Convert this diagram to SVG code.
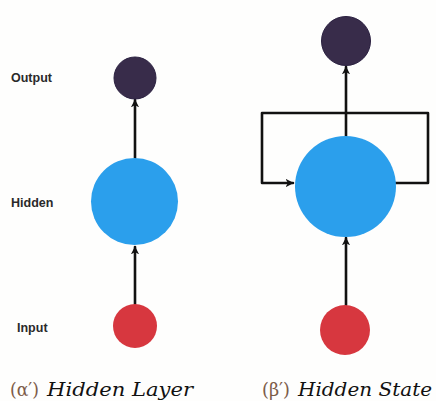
<svg xmlns="http://www.w3.org/2000/svg" width="436" height="401" viewBox="0 0 436 401">
  <defs>
    <marker id="head" viewBox="0 0 10 10" refX="9" refY="5" markerWidth="3.2" markerHeight="3.2" orient="auto" markerUnits="strokeWidth">
      <path d="M0,0 L10,5 L0,10 L3,5 Z" fill="#111"/>
    </marker>
    <style>
      .wire { fill: none; stroke: #111; stroke-width: 2.6; stroke-linejoin: round; stroke-linecap: round; }
      .out { fill: #382c4a; stroke: #2a2040; stroke-width: 1; }
      .hid { fill: #2b9fec; }
      .inp { fill: #d7373f; }
      .lbl { font-family: "Liberation Sans", Arial, sans-serif; font-weight: bold; font-size: 12.5px; fill: #2a2a2a; }
      .tag { font-family: "DejaVu Serif", "Liberation Serif", serif; font-size: 19px; fill: #7d5c49; }
      .cap { font-family: "DejaVu Serif", "Liberation Serif", serif; font-style: italic; font-size: 19px; fill: #111; }
    </style>
  </defs>
  <rect width="436" height="401" fill="#fefefd"/>

  <!-- Connectors -->
  <g id="connectors">
    <!-- left panel -->
    <line class="wire" x1="135" y1="304" x2="135" y2="247" marker-end="url(#head)"/>
    <line class="wire" x1="135" y1="158" x2="135" y2="100" marker-end="url(#head)"/>
    <!-- right panel -->
    <line class="wire" x1="346" y1="305" x2="346" y2="238" marker-end="url(#head)"/>
    <line class="wire" x1="346" y1="136" x2="346" y2="67" marker-end="url(#head)"/>
    <path class="wire" d="M394,183 H428 V113 H262 V183 H293" marker-end="url(#head)"/>
  </g>

  <!-- Left panel: hidden layer -->
  <g id="label-output">
    <text class="lbl" x="11" y="82">Output</text>
  </g>
  <g id="label-hidden">
    <text class="lbl" x="11" y="207">Hidden</text>
  </g>
  <g id="label-input">
    <text class="lbl" x="17" y="332">Input</text>
  </g>
  <g id="a-output">
    <circle class="out" cx="135" cy="78" r="21"/>
  </g>
  <g id="a-hidden">
    <circle class="hid" cx="134.5" cy="201.5" r="43.5"/>
  </g>
  <g id="a-input">
    <circle class="inp" cx="135" cy="326" r="22"/>
  </g>

  <!-- Right panel: hidden state -->
  <g id="b-output">
    <circle class="out" cx="346" cy="41" r="24.5"/>
  </g>
  <g id="b-hidden">
    <circle class="hid" cx="345.5" cy="186.5" r="50.5"/>
  </g>
  <g id="b-input">
    <circle class="inp" cx="345" cy="330" r="25"/>
  </g>

  <!-- Captions -->
  <g id="caption-a">
    <text class="tag" x="10" y="396" textLength="29" lengthAdjust="spacingAndGlyphs">(α′)</text>
    <text class="cap" x="47" y="396" textLength="146" lengthAdjust="spacingAndGlyphs">Hidden Layer</text>
  </g>
  <g id="caption-b">
    <text class="tag" x="262" y="396" textLength="28" lengthAdjust="spacingAndGlyphs">(β′)</text>
    <text class="cap" x="298" y="396" textLength="134" lengthAdjust="spacingAndGlyphs">Hidden State</text>
  </g>
</svg>
